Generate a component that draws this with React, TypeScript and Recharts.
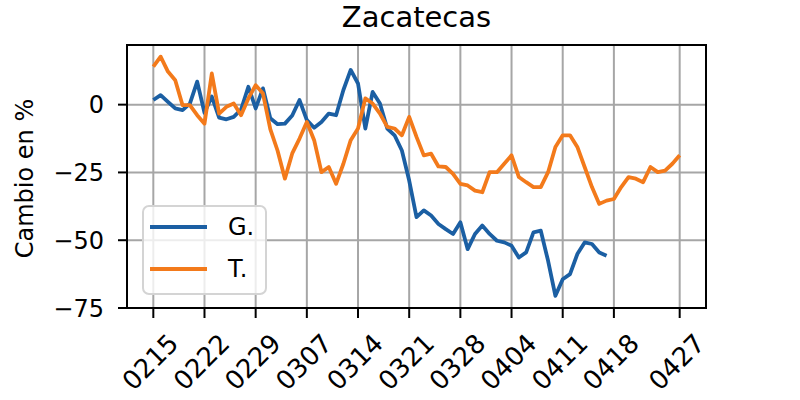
import React from 'react';
import { LineChart, Line, XAxis, YAxis, CartesianGrid, Legend, ReferenceArea, Label } from 'recharts';

// x positions: day offset from 15 Feb (index of each value)
const tickDays = [0, 7, 14, 21, 28, 35, 42, 49, 56, 63, 72];
const tickLabels = ['0215', '0222', '0229', '0307', '0314', '0321', '0328', '0404', '0411', '0418', '0427'];
const yTicks = [-75, -50, -25, 0];

const gValues = [
  1.7, 3.5, 1, -1.4, -2, 0.4, 8.5, -3, 3, -4.8,
  -5.4, -4.5, -1.8, 6.6, -1.4, 6, -5, -7.2, -7, -4,
  1.7, -5.7, -8.5, -6.4, -3.3, -3.9, 5.4, 12.8, 7.8, -8.8,
  4.7, 0.4, -8.8, -11.3, -16.9, -28, -41.5, -39, -40.9, -44,
  -45.9, -47.7, -43.4, -53.3, -47.7, -44.6, -47.7, -50.2, -50.8, -52,
  -56.4, -54.5, -47.1, -46.5, -57.6, -70.5, -64.4, -62.5, -55.1, -50.8,
  -51.4, -54.5, -55.7,
];

const tValues = [
  14, 17.7, 12.2, 9, -0.2, -0.2, -3.9, -7, 11.5, -3.3,
  -0.8, 0.4, -3.9, 2.3, 7.2, 4.1, -9, -17, -27.3, -18,
  -12.5, -6.4, -13.1, -24.9, -23, -29.2, -21.8, -13.1, -8.8, 2.3,
  0.4, -3.3, -8.2, -8.8, -11.3, -4.5, -11.9, -18.7, -18.1, -22.8,
  -23, -25.5, -29.2, -29.8, -31.7, -32.3, -24.9, -24.9, -21.8, -18.7,
  -26.7, -28.6, -30.4, -30.4, -24.9, -15.6, -11.3, -11.3, -15.6, -23,
  -30.4, -36.6, -35.4, -34.8, -30.4, -26.7, -27.3, -28.6, -23, -24.9,
  -24.3, -21.8, -18.7,
];

const data = tValues.map((t, i) => ({ day: i, g: i < gValues.length ? gValues[i] : undefined, t }));

const FONT = 'DejaVu Sans';
const BLUE = '#1b5fa3';
const ORANGE = '#f37a1b';
const X_DOMAIN: [number, number] = [-3.6, 75.6];
const Y_DOMAIN: [number, number] = [-75, 22];

const fmtY = (v: number) => (v < 0 ? '\u2212' + Math.abs(v) : String(v));

const XTick = (props: any) => {
  const { x, y, payload } = props;
  const idx = tickDays.indexOf(payload.value);
  const label = idx >= 0 ? tickLabels[idx] : '';
  const cx = x - 3;
  const cy = y + 44;
  return (
    <text
      x={cx}
      y={cy}
      textAnchor="middle"
      dominantBaseline="central"
      transform={`rotate(-45 ${cx} ${cy})`}
      fontFamily={FONT}
      fontSize={26}
      fill="#000"
    >
      {label}
    </text>
  );
};

const YLabel = (props: any) => {
  const vb = props.viewBox || { x: 0, y: 45, width: 127, height: 263 };
  const cx = 25;
  const cy = vb.y + vb.height / 2 + 2;
  return (
    <text
      x={cx}
      y={cy}
      textAnchor="middle"
      dominantBaseline="central"
      transform={`rotate(-90 ${cx} ${cy})`}
      fontFamily={FONT}
      fontSize={24}
      fill="#000"
    >
      Cambio en %
    </text>
  );
};

const LegendBox = () => (
  <div
    style={{
      width: 125,
      height: 90,
      boxSizing: 'border-box',
      border: '2px solid #d4d4d4',
      borderRadius: 7,
      background: 'rgba(255,255,255,0.8)',
      position: 'relative',
      fontFamily: FONT,
      fontSize: 24,
      color: '#000',
    }}
  >
    {[
      { name: 'G.', color: BLUE, top: 22 },
      { name: 'T.', color: ORANGE, top: 64 },
    ].map((r) => (
      <div key={r.name} style={{ position: 'absolute', left: 0, top: r.top - 2, width: '100%', height: 0 }}>
        <div style={{ position: 'absolute', left: 6, top: -2, width: 57, height: 4, background: r.color }} />
        <div style={{ position: 'absolute', left: 84, top: -15, lineHeight: '30px' }}>{r.name}</div>
      </div>
    ))}
  </div>
);

export default function App() {
  return (
    <div style={{ position: 'absolute', left: 0, top: 0, width: 800, height: 400, background: '#fff' }}>
      <div
        style={{
          position: 'absolute',
          left: 0,
          top: 0,
          width: 833,
          textAlign: 'center',
          fontFamily: FONT,
          fontSize: 29,
          lineHeight: '34px',
          color: '#000',
        }}
      >
        Zacatecas
      </div>
      <LineChart
        width={800}
        height={400}
        data={data}
        margin={{ top: 45, right: 94, bottom: 0, left: 0 }}
        style={{ position: 'absolute', left: 0, top: 0 }}
      >
        <CartesianGrid stroke="#a6a6a6" strokeWidth={2} />
        <XAxis
          dataKey="day"
          type="number"
          domain={X_DOMAIN}
          ticks={tickDays}
          interval={0}
          height={92}
          tick={<XTick />}
          tickSize={10}
          tickMargin={0}
          tickLine={{ stroke: '#000', strokeWidth: 2 }}
          axisLine={false}
          allowDataOverflow
        />
        <YAxis
          type="number"
          domain={Y_DOMAIN}
          ticks={yTicks}
          interval={0}
          width={127}
          tickFormatter={fmtY}
          tick={{ fontFamily: FONT, fontSize: 24, fill: '#000' }}
          tickSize={9}
          tickMargin={14}
          tickLine={{ stroke: '#000', strokeWidth: 2 }}
          axisLine={false}
          allowDataOverflow
        >
          <Label content={<YLabel />} />
        </YAxis>
        <Line
          dataKey="g"
          name="G."
          type="linear"
          stroke={BLUE}
          strokeWidth={3.8}
          strokeLinejoin="round"
          dot={false}
          isAnimationActive={false}
        />
        <Line
          dataKey="t"
          name="T."
          type="linear"
          stroke={ORANGE}
          strokeWidth={3.8}
          strokeLinejoin="round"
          dot={false}
          isAnimationActive={false}
        />
        <ReferenceArea
          x1={X_DOMAIN[0]}
          x2={X_DOMAIN[1]}
          y1={Y_DOMAIN[0]}
          y2={Y_DOMAIN[1]}
          fill="none"
          fillOpacity={0}
          stroke="#000"
          strokeWidth={2}
          ifOverflow="visible"
        />
        <Legend
          layout="vertical"
          align="center"
          verticalAlign="middle"
          content={<LegendBox />}
          wrapperStyle={{ position: 'absolute', left: 142, top: 205, width: 125, height: 90 }}
        />
      </LineChart>
    </div>
  );
}
